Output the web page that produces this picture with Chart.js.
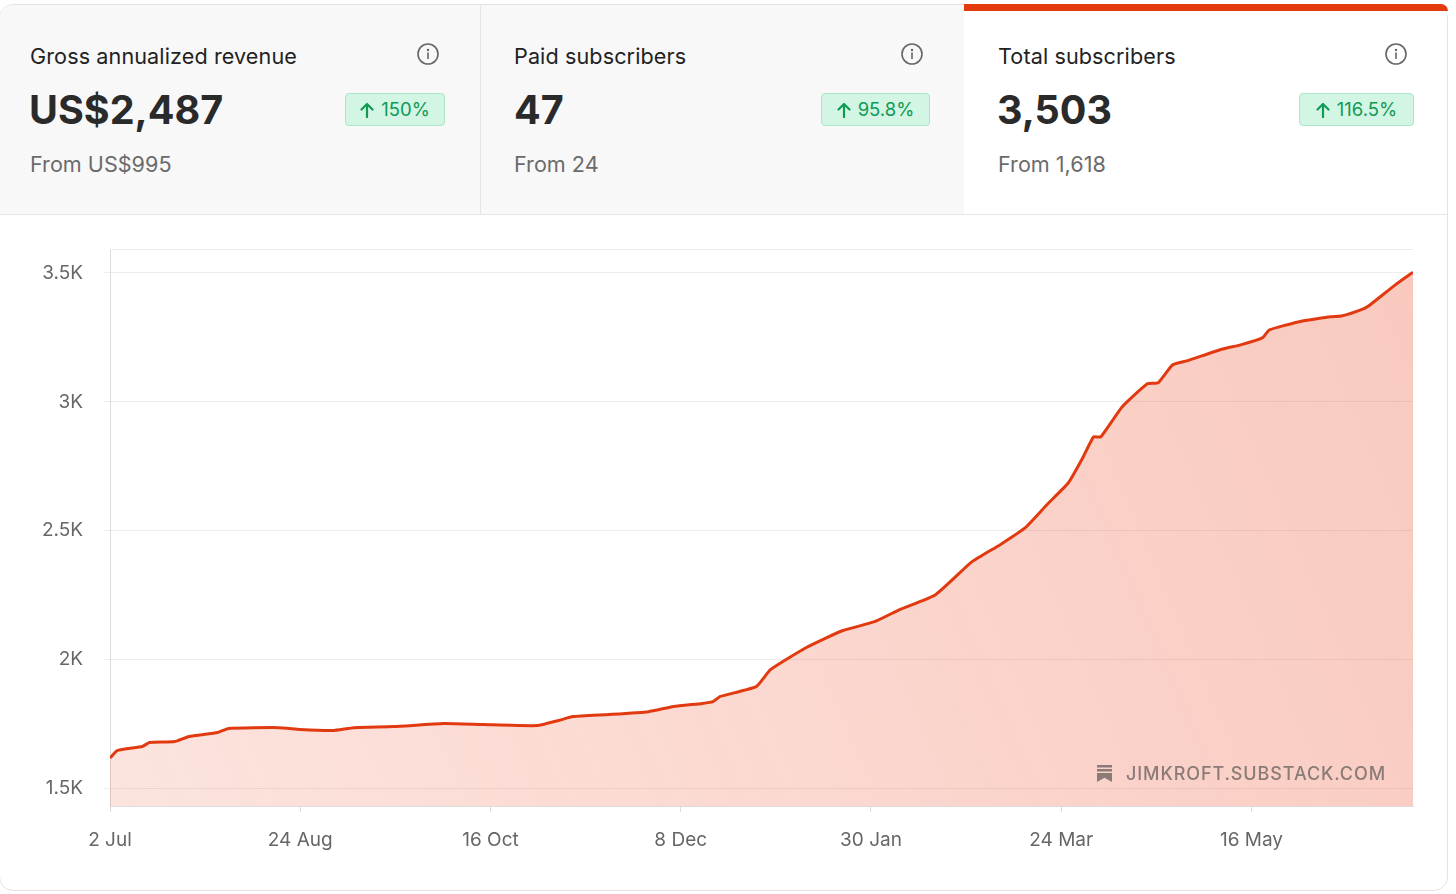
<!DOCTYPE html>
<html><head><meta charset="utf-8">
<script src="https://cdn.jsdelivr.net/npm/chart.js@4"></script>
<style>
html,body{margin:0;padding:0;background:#fff;font-family:Inter,"Open Sans",Roboto,sans-serif;}
#page{position:relative;width:1456px;height:894px;overflow:hidden;}
#card{position:absolute;left:-1px;top:4px;width:1447px;height:885px;border:1px solid #e3e3e3;border-radius:14px;background:#fff;}
.panel{position:absolute;top:5px;height:209px;}
#p1{left:0;width:480px;background:#f8f8f8;border-right:1px solid #e6e6e6;border-top-left-radius:13px;}
#p2{left:481px;width:483px;background:#f8f8f8;}
#p3{left:964px;width:483px;background:#fff;border-top-right-radius:13px;}
#rowline{position:absolute;left:0;top:214px;width:1447px;height:1px;background:#e6e6e6;}
#redbar{position:absolute;left:964px;top:4px;width:484px;height:7px;background:#e5390e;border-top-right-radius:14px;}
.title{position:absolute;left:30px;top:39px;font-size:21.6px;line-height:24px;color:#222;letter-spacing:0.1px;}
.big{position:absolute;left:29px;top:81px;font-size:39.5px;line-height:48px;font-weight:700;color:#2a2a2a;}
.from{position:absolute;left:30px;top:147px;font-size:21.6px;line-height:24px;color:#6b6b6b;}
.info{position:absolute;top:38px;width:22px;height:22px;}
.badge{position:absolute;top:88px;height:31px;border:1px solid #a9e6c8;background:#d3f5e4;border-radius:4px;color:#0f9a55;font-size:18.5px;line-height:31px;display:flex;align-items:center;justify-content:center;}
.badge svg{margin-right:7px;}
#chartwrap{position:absolute;left:0;top:215px;width:1447px;height:674px;}
#wm{position:absolute;left:1097px;top:763px;height:20px;display:flex;align-items:center;color:#8a7b77;font-size:18px;font-weight:500;letter-spacing:0.9px;}
#wm svg{margin-right:14px;}
</style>
</head>
<body>
<div id="page">
<div id="card"></div>
<div class="panel" id="p1">
  <div class="title">Gross annualized revenue</div>
  <div class="big">US$2,487</div>
  <div class="from">From US$995</div>
  <svg class="info" style="left:417px" viewBox="0 0 22 22"><circle cx="11" cy="11" r="10" fill="none" stroke="#666" stroke-width="1.6"/><circle cx="11" cy="7" r="1.2" fill="#666"/><rect x="10.2" y="9.5" width="1.6" height="6.5" fill="#666"/></svg>
  <div class="badge" style="left:345px;width:98px;"><svg width="14" height="16" viewBox="0 0 14 16"><path d="M7 15V2M1.5 7.5L7 2l5.5 5.5" fill="none" stroke="#0f9a55" stroke-width="2.2" stroke-linecap="round" stroke-linejoin="round"/></svg>150%</div>
</div>
<div class="panel" id="p2">
  <div class="title" style="left:33px">Paid subscribers</div>
  <div class="big" style="left:33px">47</div>
  <div class="from" style="left:33px">From 24</div>
  <svg class="info" style="left:420px" viewBox="0 0 22 22"><circle cx="11" cy="11" r="10" fill="none" stroke="#666" stroke-width="1.6"/><circle cx="11" cy="7" r="1.2" fill="#666"/><rect x="10.2" y="9.5" width="1.6" height="6.5" fill="#666"/></svg>
  <div class="badge" style="left:340px;width:107px;"><svg width="14" height="16" viewBox="0 0 14 16"><path d="M7 15V2M1.5 7.5L7 2l5.5 5.5" fill="none" stroke="#0f9a55" stroke-width="2.2" stroke-linecap="round" stroke-linejoin="round"/></svg>95.8%</div>
</div>
<div class="panel" id="p3">
  <div class="title" style="left:34px">Total subscribers</div>
  <div class="big" style="left:33px">3,503</div>
  <div class="from" style="left:34px">From 1,618</div>
  <svg class="info" style="left:421px" viewBox="0 0 22 22"><circle cx="11" cy="11" r="10" fill="none" stroke="#666" stroke-width="1.6"/><circle cx="11" cy="7" r="1.2" fill="#666"/><rect x="10.2" y="9.5" width="1.6" height="6.5" fill="#666"/></svg>
  <div class="badge" style="left:335px;width:113px;"><svg width="14" height="16" viewBox="0 0 14 16"><path d="M7 15V2M1.5 7.5L7 2l5.5 5.5" fill="none" stroke="#0f9a55" stroke-width="2.2" stroke-linecap="round" stroke-linejoin="round"/></svg>116.5%</div>
</div>
<div id="redbar"></div>
<div id="rowline"></div>
<div id="chartwrap"><canvas id="c"></canvas></div>
<div id="wm"><svg width="15" height="17" viewBox="0 0 15 17"><rect x="0" y="0" width="15" height="2.5" fill="#8a7b77"/><rect x="0" y="4" width="15" height="2.5" fill="#8a7b77"/><path d="M0 8H15V17L7.5 12.8L0 17Z" fill="#8a7b77"/></svg>JIMKROFT.SUBSTACK.COM</div>
</div>
<script>
// Days since 2 Jul
const days = [0,2,9,11,18,22,30,33,47,53,62,68,79,93,104,119,125,129,139,150,157,165,168,170,180,184,194,204,213,220,230,240,248,255,261,267,271,274,276,282,289,292,296,300,310,315,321,323,331,340,343,349,351,358,363];
const subscribers = [1618,1647,1663,1678,1682,1702,1717,1733,1736,1729,1725,1736,1740,1752,1748,1744,1764,1779,1787,1798,1818,1830,1837,1857,1895,1961,2047,2112,2147,2194,2252,2378,2446,2512,2601,2686,2783,2864,2864,2981,3070,3074,3143,3159,3205,3221,3248,3279,3310,3330,3333,3360,3376,3453,3503];
const tickDays = [0,53,106,159,212,265,318];
const tickLabels = ['2 Jul','24 Aug','16 Oct','8 Dec','30 Jan','24 Mar','16 May'];
const yTicks = [1500,2000,2500,3000,3500];
const yLabels = ['1.5K','2K','2.5K','3K','3.5K'];

const points = days.map((d,i)=>({x:d,y:subscribers[i]}));

const topLine = {
  id:'topLine',
  beforeDatasetsDraw(chart){
    const {ctx, chartArea:a} = chart;
    ctx.save();
    ctx.strokeStyle='#ececec';ctx.lineWidth=1;
    ctx.beginPath();ctx.moveTo(a.left,a.top+0.5);ctx.lineTo(a.right,a.top+0.5);ctx.stroke();
    ctx.restore();
  }
};

new Chart(document.getElementById('c'),{
  type:'line',
  data:{datasets:[{
    data:points,
    borderColor:'#e23a10',
    borderWidth:3,
    pointRadius:0,
    tension:0.15,
    borderJoinStyle:'round',
    fill:'start',
    backgroundColor:(ctx)=>{
      const {chart}=ctx; const a=chart.chartArea;
      if(!a) return 'rgba(238,100,68,0.3)';
      const g=chart.ctx.createLinearGradient(a.left,a.bottom,a.right,a.top);
      g.addColorStop(0,'rgba(240,110,80,0.19)');
      g.addColorStop(1,'rgba(238,100,70,0.35)');
      return g;
    }
  }]},
  options:{
    responsive:true,maintainAspectRatio:false,animation:false,
    layout:{padding:{top:34,right:34,left:0,bottom:0}},
    plugins:{legend:{display:false},tooltip:{enabled:false}},
    scales:{
      x:{type:'linear',min:0,max:363,
        afterFit(s){s.height=83;},
        afterBuildTicks(s){s.ticks=tickDays.map(v=>({value:v}));},
        ticks:{callback:(v)=>tickLabels[tickDays.indexOf(v)],color:'#666',font:{family:'Inter',size:19},padding:17,maxRotation:0,autoSkip:false},
        grid:{drawOnChartArea:false,drawTicks:true,tickLength:6,color:'#dcdcdc'},
        border:{display:true,color:'#dcdcdc'}
      },
      y:{min:1432,max:3593,
        afterFit(s){s.width=110;},
        afterBuildTicks(s){s.ticks=yTicks.map(v=>({value:v}));},
        ticks:{callback:(v)=>yLabels[yTicks.indexOf(v)],color:'#666',font:{family:'Inter',size:19},padding:21},
        grid:{color:'#ececec',tickLength:6,drawTicks:true},
        border:{display:true,color:'#dcdcdc'}
      }
    }
  },
  plugins:[topLine]
});
</script>
</body></html>
